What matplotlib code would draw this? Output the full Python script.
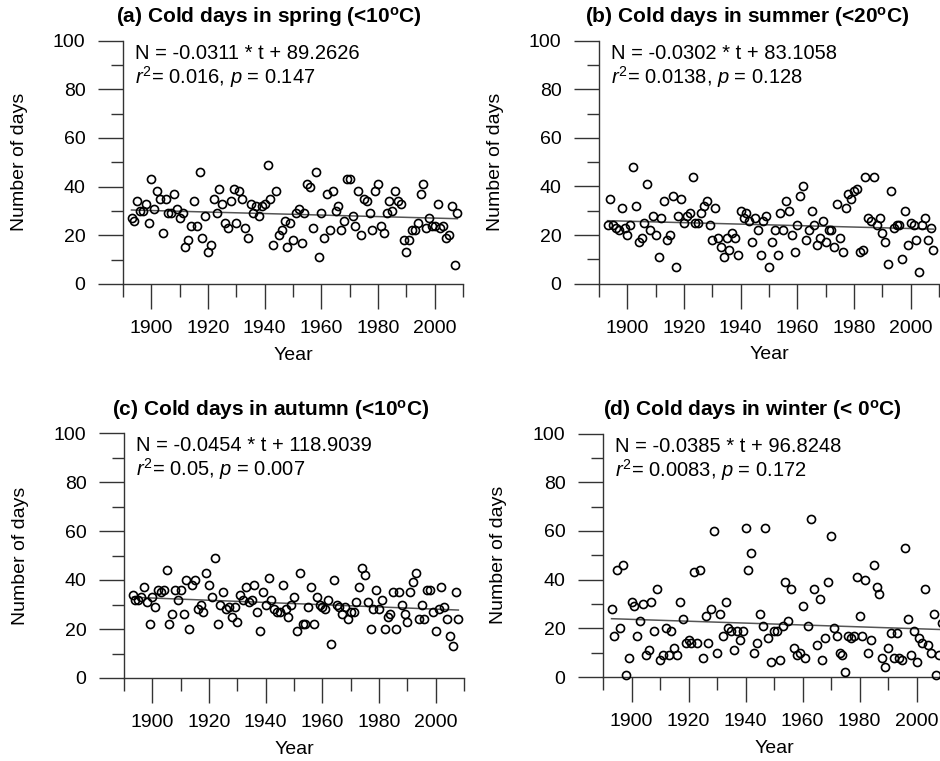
import numpy as np
import matplotlib
matplotlib.use('Agg')
import matplotlib.pyplot as plt
from matplotlib.ticker import MultipleLocator

plt.rcParams['font.family'] = ['Liberation Sans', 'DejaVu Sans']
plt.rcParams['mathtext.fontset'] = 'custom'
plt.rcParams['mathtext.rm'] = 'Liberation Sans'
plt.rcParams['mathtext.it'] = 'Liberation Sans:italic'
plt.rcParams['mathtext.bf'] = 'Liberation Sans:bold'

start_year = 1893

spring = [27, 26, 34, 30, 30, 33, 25, 43, 31, 38, 35, 21, 35, 29, 29, 37, 31, 27, 29, 15,
          18, 24, 34, 24, 46, 19, 28, 13, 16, 35, 29, 39, 33, 25, 23, 34, 39, 25, 38, 35,
          23, 19, 33, 29, 32, 28, 32, 33, 49, 35, 16, 38, 20, 22, 26, 15, 25, 18, 29, 31,
          17, 29, 41, 40, 23, 46, 11, 29, 19, 37, 22, 38, 30, 32, 22, 26, 43, 43, 28, 24,
          38, 20, 35, 34, 29, 22, 38, 41, 24, 21, 29, 34, 30, 38, 34, 33, 18, 13, 18, 22,
          22, 25, 37, 41, 23, 27, 24, 24, 33, 23, 24, 19, 20, 32, 8, 29]

summer = [24, 35, 24, 23, 22, 31, 23, 20, 24, 48, 32, 17, 19, 25, 41, 22, 28, 20, 11, 27,
          34, 18, 20, 36, 7, 28, 35, 25, 28, 29, 44, 25, 25, 29, 32, 34, 24, 18, 31, 19,
          15, 11, 19, 14, 21, 19, 12, 30, 27, 29, 26, 17, 27, 22, 12, 26, 28, 7, 17, 22,
          12, 29, 22, 34, 30, 20, 13, 24, 36, 40, 18, 22, 30, 24, 16, 19, 26, 17, 22, 22,
          15, 33, 19, 13, 31, 37, 35, 38, 39, 13, 14, 44, 27, 26, 44, 24, 27, 21, 17, 8,
          38, 23, 24, 24, 10, 30, 16, 25, 24, 18, 5, 24, 27, 18, 23, 14]

autumn = [34, 32, 32, 33, 37, 31, 22, 33, 29, 36, 35, 36, 44, 22, 26, 36, 32, 36, 26, 40,
          20, 38, 40, 28, 30, 27, 43, 38, 33, 49, 22, 30, 35, 28, 29, 25, 29, 23, 34, 32,
          37, 31, 32, 38, 27, 19, 35, 30, 41, 32, 28, 27, 27, 38, 28, 25, 30, 33, 19, 43,
          22, 22, 29, 37, 22, 33, 30, 29, 28, 32, 14, 40, 30, 29, 26, 29, 24, 27, 27, 31,
          37, 45, 42, 31, 20, 28, 36, 28, 32, 20, 25, 26, 35, 20, 35, 30, 26, 23, 35, 39,
          43, 24, 30, 24, 36, 36, 27, 19, 28, 37, 29, 24, 17, 13, 35, 24]

winter = [28, 17, 44, 20, 46, 1, 8, 31, 29, 17, 23, 30, 9, 11, 31, 19, 36, 7, 9, 20,
          9, 19, 12, 9, 31, 24, 14, 15, 14, 43, 14, 44, 8, 25, 14, 28, 60, 10, 26, 17,
          31, 20, 19, 11, 19, 15, 19, 61, 44, 51, 10, 14, 26, 21, 61, 16, 6, 19, 19, 7,
          21, 39, 23, 36, 12, 9, 10, 29, 8, 21, 65, 36, 13, 32, 7, 16, 39, 58, 20, 17,
          10, 9, 2, 17, 16, 17, 41, 25, 17, 40, 10, 15, 46, 37, 34, 8, 4, 12, 18, 8,
          18, 8, 7, 53, 24, 9, 19, 6, 16, 14, 36, 13, 10, 26, 1, 9, 22]

series = [spring, summer, autumn, winter]
titles = [r'(a) Cold days in spring (<10$^{\mathbf{o}}$C)',
          r'(b) Cold days in summer (<20$^{\mathbf{o}}$C)',
          r'(c) Cold days in autumn (<10$^{\mathbf{o}}$C)',
          r'(d) Cold days in winter (< 0$^{\mathbf{o}}$C)']
slopes = [-0.0311, -0.0302, -0.0454, -0.0385]
intercepts = [89.2626, 83.1058, 118.9039, 96.8248]
r2_text = ['0.016', '0.0138', '0.05', '0.0083']
p_text = ['0.147', '0.128', '0.007', '0.172']

W, H = 940, 761
fig = plt.figure(figsize=(W / 100, H / 100), dpi=100)

# axes boxes in pixels: left, top, right, bottom
boxes = [(123, 40.5, 463, 284), (599, 40.7, 939, 283.7),
         (124, 433, 464, 678), (603, 433.5, 945, 677)]
title_pos = [(269, 17), (747, 17), (271, 410), (752, 410)]

axcol = '#333333'
for i, vals in enumerate(series):
    l, t, r, b = boxes[i]
    ax = fig.add_axes([l / W, 1 - b / H, (r - l) / W, (b - t) / H])
    yrs = np.arange(start_year, start_year + len(vals))
    ax.plot(yrs, vals, linestyle='none', marker='o', ms=5.8, mfc='none',
            mec='black', mew=1.2, clip_on=False, zorder=3)
    xl = np.array([yrs[0], yrs[-1]])
    ax.plot(xl, slopes[i] * xl + intercepts[i], color='#555555', lw=1.1, zorder=2)
    ax.set_xlim(1890, 2010)
    ax.set_ylim(0, 100)
    for s in ['top', 'right']:
        ax.spines[s].set_visible(False)
    for s in ['left', 'bottom']:
        ax.spines[s].set_color(axcol)
        ax.spines[s].set_linewidth(1.0)
    ax.xaxis.set_minor_locator(MultipleLocator(10))
    ax.yaxis.set_major_locator(MultipleLocator(20))
    ax.yaxis.set_minor_locator(MultipleLocator(10))
    ax.set_xticks([1900, 1920, 1940, 1960, 1980, 2000])
    ax.tick_params(which='major', length=18, width=1.0, color=axcol, labelsize=14)
    ax.tick_params(which='minor', length=9, width=1.0, color=axcol)
    ax.tick_params(axis='x', which='major', pad=8)
    ax.tick_params(axis='y', which='major', pad=9)
    ax.set_xlabel('Year', fontsize=14)
    ax.set_ylabel('Number of days', fontsize=14)
    ax.xaxis.set_label_coords(0.5, -0.258)
    ax.yaxis.set_label_coords(-0.28, 0.5)
    eq = (f'N = {slopes[i]:.4f} * t + {intercepts[i]:.4f}\n'
          + r'$r^2$= ' + r2_text[i] + r', $p$ = ' + p_text[i])
    ax.text(0.035, 1 - 43 / (b - t), eq, transform=ax.transAxes, fontsize=14.5,
            va='baseline', ha='left', linespacing=1.05)
    fig.text(title_pos[i][0] / W, 1 - title_pos[i][1] / H, titles[i],
             fontsize=15, fontweight='bold', ha='center', va='center')

fig.savefig('out.png', dpi=100)
